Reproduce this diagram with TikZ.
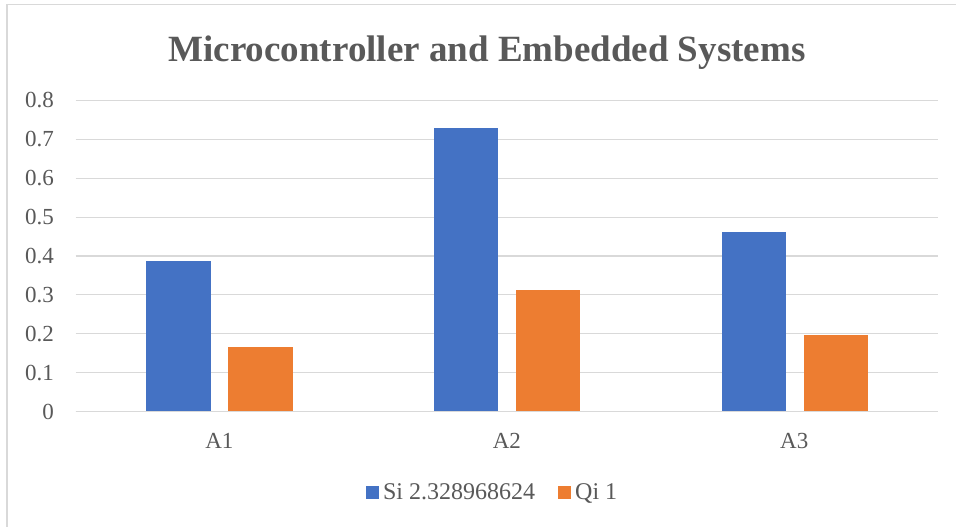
\documentclass[tikz,border=0pt]{standalone}
\usepackage{fontspec}
\setmainfont{Liberation Serif}
\begin{document}
\begin{tikzpicture}[x=1pt,y=-1pt,
  grid/.style={draw=gridc,line width=1.2pt},
  tick/.style={anchor=east,text=txt,font=\fontsize{23}{25}\selectfont,inner sep=0pt},
  cat/.style={anchor=base,text=txt,font=\fontsize{23}{25}\selectfont,inner sep=0pt},
  sbar/.style={fill=bblue,draw=none},
  qbar/.style={fill=borange,draw=none},
  leg/.style={anchor=base west,text=txt,font=\fontsize{24}{26}\selectfont,inner sep=0pt}]
\definecolor{gridc}{HTML}{D9D9D9}
\definecolor{txt}{HTML}{595959}
\definecolor{bblue}{HTML}{4472C4}
\definecolor{borange}{HTML}{ED7D31}
\useasboundingbox (0,0) rectangle (956,527);
\fill[white] (0,0) rectangle (956,527);
% frame
\coordinate (fa) at (7,527);
\coordinate (fb) at (7,4.5);
\coordinate (fc) at (956,4.5);
\draw[draw=gridc,line width=1.5pt] (fa) -- (fb) -- (fc);
% title
\node[text=txt,font=\fontsize{37}{40}\selectfont\bfseries,inner sep=0pt,anchor=base] (title) at (487,62) {Microcontroller and Embedded Systems};
% gridlines and ticks
\foreach \i/\lab in {0/0,1/0.1,2/0.2,3/0.3,4/0.4,5/0.5,6/0.6,7/0.7,8/0.8}{
  \coordinate (gl\i) at (75.7,{411.5-38.875*\i});
  \coordinate (gr\i) at (938,{411.5-38.875*\i});
  \draw[grid] (gl\i) -- (gr\i);
  \node[tick] (t\i) at (54,{411.5-38.875*\i}) {\lab};
}
% bars
\def\ys#1{411.5-388.75*#1}
\fill[sbar] (146,411.5) rectangle (210.7,{\ys{0.388}});
\fill[qbar] (228.3,411.5) rectangle (292.7,{\ys{0.166}});
\fill[sbar] (434,411.5) rectangle (498.3,{\ys{0.729}});
\fill[qbar] (516,411.5) rectangle (580.3,{\ys{0.3116}});
\fill[sbar] (721.7,411.5) rectangle (786,{\ys{0.4615}});
\fill[qbar] (803.7,411.5) rectangle (868,{\ys{0.1975}});
\draw[grid] (gl0) -- (gr0);
% categories
\node[cat] (A1) at (219.4,448.5) {A1};
\node[cat] (A2) at (506.8,448.5) {A2};
\node[cat] (A3) at (794.2,448.5) {A3};
% legend
\fill[bblue] (366,486) rectangle (379,498.5);
\node[leg] (l1) at (382.8,499.3) {Si 2.328968624};
\fill[borange] (558.3,486) rectangle (571,498.5);
\node[leg] (l2) at (575,499.3) {Qi 1};
\end{tikzpicture}
\end{document}
